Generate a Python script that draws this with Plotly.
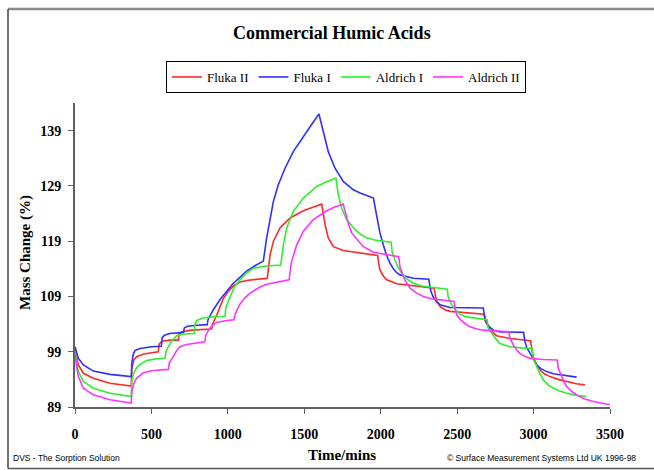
import plotly.graph_objects as go

# ---------------- data ----------------
fluka2_t = [0, 10, 22, 55, 120, 229, 368,
            372, 385, 403, 450, 545,
            551, 570, 620, 676,
            680, 700, 760, 894,
            900, 927, 950, 970, 1000, 1036, 1080, 1123, 1258,
            1265, 1276, 1298, 1341, 1407, 1494, 1560, 1614,
            1625, 1636, 1657, 1690, 1755, 1865, 1980,
            1987, 1995, 2017, 2039, 2105, 2213, 2350,
            2357, 2365, 2388, 2420, 2453, 2530, 2606, 2676,
            2683, 2700, 2715, 2759, 2800, 2846, 2980,
            2988, 2998, 3020, 3042, 3070, 3107, 3160, 3217, 3280, 3336]
fluka2_v = [99.3, 97.8, 96.6, 95.1, 94.2, 93.3, 92.8,
            96.0, 97.5, 98.1, 98.6, 99.0,
            100.4, 100.9, 101.1, 101.1,
            102.2, 102.6, 102.9, 103.1,
            104.0, 105.6, 107.3, 108.6, 109.8, 110.9, 111.6, 111.9, 112.3,
            114.5, 116.5, 119.0, 121.4, 123.2, 124.5, 125.2, 125.7,
            123.8, 122.0, 119.6, 118.0, 117.3, 116.8, 116.4,
            115.0, 113.8, 112.7, 112.0, 111.3, 110.9, 110.5,
            109.3, 108.3, 107.2, 106.6, 106.3, 106.1, 106.0, 105.8,
            104.6, 103.6, 102.9, 101.9, 101.6, 101.4, 101.0,
            99.5, 98.0, 96.7, 95.7, 95.0, 94.5, 94.0, 93.6, 93.2, 93.0]

fluka1_t = [0, 10, 22, 55, 120, 229, 368,
            372, 380, 392, 425, 500, 565,
            570, 585, 620, 710,
            715, 735, 800, 865,
            870, 885, 905, 948, 992, 1030, 1080, 1123, 1180, 1232,
            1254, 1276, 1298, 1330, 1374, 1428, 1494, 1548, 1596,
            1610, 1625, 1657, 1701, 1755, 1821, 1865, 1952,
            1962, 1973, 1995, 2017, 2039, 2061, 2083, 2105, 2126, 2213, 2315,
            2322, 2330, 2344, 2366, 2388, 2453, 2671,
            2678, 2693, 2715, 2737, 2780, 2935,
            2942, 2955, 2977, 3000, 3020, 3050, 3086, 3130, 3173, 3230, 3282]
fluka1_v = [99.9, 98.8, 97.8, 96.6, 95.5, 94.9, 94.5,
            97.0, 98.4, 99.2, 99.6, 99.9, 100.0,
            101.5, 102.0, 102.3, 102.5,
            103.3, 103.6, 103.8, 103.9,
            104.8, 105.6, 106.6, 108.4, 110.0, 111.2, 112.5, 113.6, 114.6, 115.4,
            119.6, 123.2, 126.2, 129.2, 132.2, 135.2, 138.0, 140.1, 142.0,
            140.4, 138.9, 135.2, 132.2, 129.8, 128.3, 127.7, 126.8,
            125.2, 123.5, 120.5, 118.3, 116.4, 115.0, 114.0, 113.3, 112.9, 112.3, 112.1,
            110.8, 109.8, 108.9, 108.0, 107.5, 107.0, 106.9,
            105.6, 104.2, 103.4, 102.9, 102.6, 102.5,
            101.0, 99.8, 98.7, 97.4, 96.6, 95.9, 95.4, 95.0, 94.8, 94.6, 94.4]

aldrich1_t = [0, 10, 22, 55, 120, 229, 368,
              372, 385, 403, 430, 469, 530, 589,
              595, 611, 635, 665, 710, 780,
              785, 800, 839, 900, 981,
              987, 1014, 1040, 1079, 1120, 1167, 1254, 1346,
              1352, 1363, 1385, 1428, 1494, 1581, 1650, 1707,
              1715, 1723, 1744, 1777, 1832, 1870, 1908, 1960, 2068,
              2075, 2093, 2115, 2137, 2175, 2213, 2270, 2322, 2435,
              2442, 2464, 2490, 2519, 2560, 2606, 2695,
              2703, 2720, 2737, 2760, 2780, 2846, 2920, 2990,
              2998, 3020, 3042, 3064, 3095, 3129, 3170, 3217, 3280, 3347]
aldrich1_v = [99.1, 97.0, 95.4, 93.6, 92.4, 91.5, 90.9,
              93.8, 95.2, 96.1, 96.8, 97.4, 97.7, 97.8,
              99.0, 99.9, 101.0, 101.9, 102.2, 102.3,
              104.0, 104.7, 105.1, 105.3, 105.4,
              107.0, 109.0, 110.6, 112.0, 113.2, 114.1, 114.5, 114.7,
              116.3, 118.3, 121.4, 124.4, 126.8, 128.9, 129.8, 130.4,
              128.8, 127.4, 125.0, 122.9, 121.1, 120.2, 119.6, 119.2, 118.8,
              117.0, 115.6, 114.2, 113.2, 112.1, 111.4, 110.9, 110.7, 110.3,
              108.8, 107.5, 106.6, 105.8, 105.3, 105.1, 104.8,
              103.3, 102.6, 102.0, 101.1, 100.5, 99.9, 99.7, 99.6,
              97.8, 96.3, 95.0, 93.9, 93.0, 92.4, 91.9, 91.5, 91.1, 90.9]

aldrich2_t = [0, 10, 22, 55, 120, 229, 368,
              372, 385, 403, 447, 512, 611,
              617, 643, 665, 687, 730, 774, 850,
              855, 883, 905, 927, 980, 1040,
              1045, 1060, 1079, 1110, 1145, 1210, 1254, 1320, 1401,
              1406, 1417, 1450, 1494, 1559, 1646, 1700, 1755,
              1765, 1777, 1790, 1810, 1853, 1886, 1952, 2030, 2118,
              2125, 2148, 2170, 2192, 2235, 2279, 2330, 2388, 2480,
              2488, 2500, 2519, 2550, 2584, 2630, 2671, 2750, 2838,
              2845, 2868, 2890, 2911, 2940, 2977, 3064, 3155,
              3162, 3184, 3200, 3217, 3250, 3282, 3330, 3391, 3450, 3500]
aldrich2_v = [99.0, 96.3, 94.5, 92.4, 91.2, 90.3, 89.7,
              91.8, 93.3, 94.2, 95.2, 95.6, 95.8,
              97.0, 98.1, 99.2, 99.9, 100.3, 100.5, 100.8,
              102.0, 103.3, 103.9, 104.3, 104.6, 104.8,
              105.5, 106.6, 107.6, 108.7, 109.6, 110.7, 111.2, 111.6, 112.0,
              113.2, 115.3, 118.3, 120.8, 122.9, 124.5, 125.2, 125.7,
              124.6, 123.2, 122.0, 120.5, 119.0, 118.0, 117.0, 116.6, 116.2,
              114.5, 112.6, 111.4, 110.5, 109.6, 109.0, 108.6, 108.4, 108.1,
              106.5, 105.6, 104.9, 104.1, 103.5, 103.1, 102.9, 102.7, 102.6,
              101.5, 100.2, 99.3, 98.7, 98.2, 97.8, 97.6, 97.5,
              96.0, 94.5, 93.5, 92.7, 91.8, 91.2, 90.5, 90.0, 89.6, 89.4]

series_names = ["Fluka II", "Fluka I", "Aldrich I", "Aldrich II"]
series_t = [fluka2_t, fluka1_t, aldrich1_t, aldrich2_t]
series_v = [fluka2_v, fluka1_v, aldrich1_v, aldrich2_v]
series_colors = ["#ff2a2a", "#2f2fff", "#2cf02c", "#ff33ff"]

x_ticks = [0, 500, 1000, 1500, 2000, 2500, 3000, 3500]
y_ticks = [89, 99, 109, 119, 129, 139]

# ---------------- figure ----------------
SERIF = "Liberation Serif"
SANS = "Liberation Sans"

fig = go.Figure()
for name, t, v, c in zip(series_names, series_t, series_v, series_colors):
    fig.add_trace(go.Scatter(x=t, y=v, mode="lines", name=name,
                             line=dict(color=c, width=1.6)))

# plot area: x 75..610 px, y 103..407 px
L, R, T, B = 75, 610, 103, 407
W, H = R - L, B - T


def px(xp):
    return (xp - L) / W


def py(yp):
    return (B - yp) / H


fig.update_layout(
    width=654, height=470,
    margin=dict(l=L, r=654 - R, t=T, b=470 - B),
    paper_bgcolor="white", plot_bgcolor="white",
    showlegend=True,
    legend=dict(orientation="h", x=px(346), y=py(61), xanchor="center",
                yanchor="top", bordercolor="black", borderwidth=1,
                font=dict(family=SERIF, size=13, color="black"),
                itemwidth=30, tracegroupgap=0,
                bgcolor="white"),
    xaxis=dict(range=[0, 3500], tickvals=x_ticks, showgrid=False,
               zeroline=False, showline=True, linecolor="#606060",
               linewidth=2, ticks="outside", ticklen=5, tickwidth=1,
               tickcolor="#606060", ticklabelstandoff=8,
               tickfont=dict(family=SERIF, size=14, color="black",
                             weight="bold")),
    yaxis=dict(range=[89, 144], tickvals=y_ticks, showgrid=False,
               zeroline=False, showline=True, linecolor="#606060",
               linewidth=2, ticks="outside", ticklen=5, tickwidth=1,
               tickcolor="#606060", ticklabelstandoff=4,
               tickfont=dict(family=SERIF, size=14, color="black",
                             weight="bold")),
)

ann = [
    dict(text="<b>Commercial Humic Acids</b>", x=px(332), y=py(33),
         font=dict(family=SERIF, size=18, color="black"),
         xanchor="center", yanchor="middle"),
    dict(text="<b>Time/mins</b>", x=px(342), y=py(455),
         font=dict(family=SERIF, size=15, color="black"),
         xanchor="center", yanchor="middle"),
    dict(text="<b>Mass Change (%)</b>", x=px(25), y=py(253), textangle=-90,
         font=dict(family=SERIF, size=15, color="black"),
         xanchor="center", yanchor="middle"),
    dict(text="DVS - The Sorption Solution", x=px(11), y=py(458),
         font=dict(family=SANS, size=8.5, color="black"),
         xanchor="left", yanchor="middle"),
    dict(text="© Surface Measurement Systems Ltd UK 1996-98", x=px(638),
         y=py(458), font=dict(family=SANS, size=8.5, color="black"),
         xanchor="right", yanchor="middle"),
]
for a in ann:
    fig.add_annotation(xref="paper", yref="paper", showarrow=False, **a)

# outer frame
fig.add_shape(type="line", xref="paper", yref="paper", x0=px(8), x1=px(700),
              y0=py(9), y1=py(9), line=dict(color="#8a8a8a", width=2.5))
fig.add_shape(type="line", xref="paper", yref="paper", x0=px(8), x1=px(8),
              y0=py(9), y1=py(468.5), line=dict(color="#444444", width=1.5))
fig.add_shape(type="line", xref="paper", yref="paper", x0=px(8), x1=px(700),
              y0=py(468.5), y1=py(468.5), line=dict(color="#555555", width=1.5))

fig.write_html("out.html")
